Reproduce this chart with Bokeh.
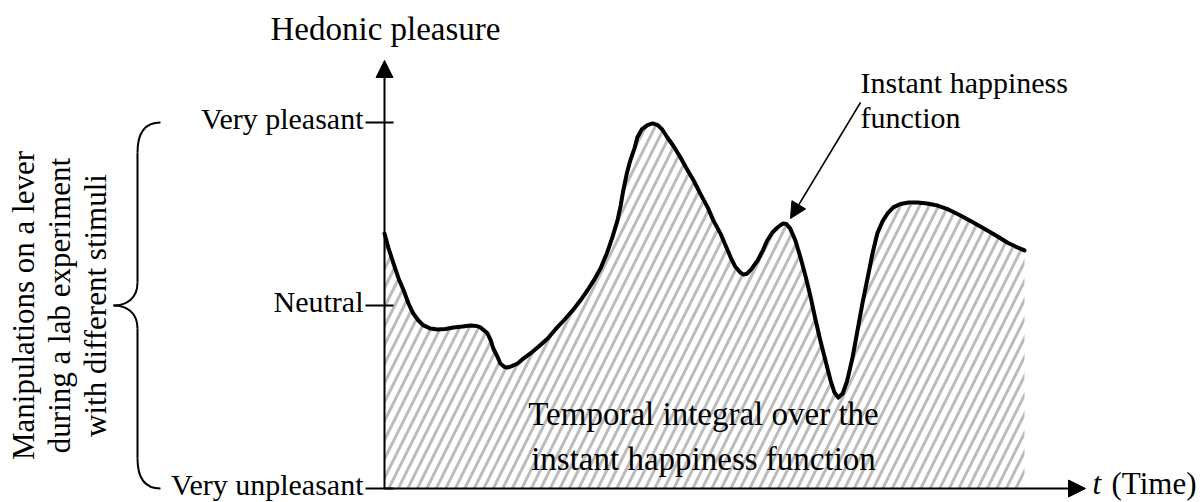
import math
from bokeh.plotting import figure
from bokeh.models import Range1d, Arrow, NormalHead
from bokeh.core.properties import value
from bokeh.embed import file_html
from bokeh.resources import INLINE

# ---- data ----
time = [0.0, 0.6, 1.4, 2.2, 3.0, 3.75, 4.5, 5.3, 6.1, 7.2, 8.3, 9.5, 10.8, 12.2, 13.4,
        14.4, 15.0, 15.6, 16.1, 16.6, 17.0, 17.7, 18.1, 18.75, 19.2, 19.8, 20.8, 21.7,
        22.8, 24.1, 25.5, 26.7, 28.0, 29.4, 30.6, 31.7, 32.7, 33.75, 34.8, 35.6, 36.4,
        36.9, 37.3, 37.9, 38.4, 39.1, 39.5, 40.2, 41.1, 41.9, 42.7, 43.4, 44.2, 45.2,
        46.25, 47.2, 48.3, 49.4, 50.5, 51.4, 52.5, 53.3, 54.1, 54.8, 55.6, 56.1, 56.7,
        57.3, 58.3, 59.1, 59.8, 60.6, 61.4, 61.9, 62.3, 62.8, 63.4, 64.2, 65.0, 65.8,
        66.6, 67.3, 68.1, 68.9, 69.7, 70.3, 70.9, 71.6, 72.3, 73.1, 73.9, 74.7, 75.5,
        76.25, 77.0, 77.8, 78.6, 79.5, 80.6, 81.9, 83.3, 84.8, 86.4, 88.1, 90.0, 92.0,
        94.2, 95.8, 97.3, 98.6, 100.0]
pleasure = [0.393, 0.317, 0.230, 0.148, 0.082, 0.011, -0.044, -0.082, -0.109, -0.126,
            -0.131, -0.128, -0.120, -0.115, -0.109, -0.112, -0.120, -0.137, -0.153,
            -0.191, -0.235, -0.284, -0.317, -0.336, -0.339, -0.333, -0.317, -0.290,
            -0.262, -0.224, -0.180, -0.131, -0.082, -0.027, 0.027, 0.082, 0.137, 0.202,
            0.290, 0.372, 0.464, 0.546, 0.628, 0.727, 0.792, 0.863, 0.918, 0.962, 0.986,
            0.995, 0.986, 0.962, 0.918, 0.869, 0.809, 0.749, 0.683, 0.607, 0.536, 0.464,
            0.393, 0.328, 0.262, 0.213, 0.180, 0.169, 0.175, 0.197, 0.246, 0.300, 0.355,
            0.399, 0.426, 0.440, 0.448, 0.445, 0.420, 0.355, 0.262, 0.158, 0.044, -0.071,
            -0.191, -0.301, -0.410, -0.475, -0.503, -0.481, -0.410, -0.290, -0.137,
            0.016, 0.153, 0.284, 0.393, 0.459, 0.503, 0.536, 0.555, 0.563, 0.563, 0.557,
            0.546, 0.525, 0.492, 0.454, 0.410, 0.377, 0.344, 0.322, 0.301]
level_values = [-1, 0, 1]
level_labels = ["Very unpleasant", "Neutral", "Very pleasant"]
y_title = "Hedonic pleasure"
x_title_var = "t"
x_title_unit = "(Time)"
left_note = ["Manipulations on a lever", "during a lab experiment", "with different stimuli"]
area_note = ["Temporal integral over the", "instant happiness function"]
curve_note = ["Instant happiness", "function"]

# ---- layout helpers (canvas pixels -> data units) ----
W, H = 1203, 502
X0, PXU = 384, 6.4
Y0, PYU = 305, 183.0
FIX = 12  # rendered baseline sits this many px below the anchor
def sx(px): return (px - X0) / PXU
def sy(py): return (Y0 - py) / PYU
def by(py): return sy(py - FIX)  # anchor for a wanted baseline

FONT = value("Liberation Serif")

p = figure(width=W, height=H,
           x_range=Range1d(sx(0), sx(W)), y_range=Range1d(sy(H), sy(0)),
           x_axis_type=None, y_axis_type=None,
           toolbar_location=None, output_backend="svg", min_border=0,
           outline_line_color=None, background_fill_color="white",
           border_fill_color="white")

# hatched area under the curve
p.varea(x=time, y1=[level_values[0]] * len(time), y2=pleasure,
        fill_color="white", hatch_pattern="/", hatch_color="#bcbcbc",
        hatch_weight=3, hatch_scale=19)

# instant happiness function
p.line(time, pleasure, line_width=4, line_color="black",
       line_join="round", line_cap="round")

# axes with arrows
head = dict(fill_color="black", line_color="black")
p.add_layout(Arrow(x_start=0, y_start=level_values[0], x_end=0, y_end=sy(60),
                   line_width=2, line_color="black", end=NormalHead(size=17, **head)))
p.add_layout(Arrow(x_start=0, y_start=level_values[0], x_end=sx(1085), y_end=level_values[0],
                   line_width=2, line_color="black", end=NormalHead(size=17, **head)))

# ticks and tick labels
p.segment(x0=[sx(365)] * 3, x1=[sx(393)] * 3, y0=level_values, y1=level_values,
          line_width=2, line_color="black")
p.text(x=[sx(363)] * 3, y=[v - (8 - FIX) / PYU for v in level_values], text=level_labels,
       text_align="right", text_baseline="alphabetic", text_font=FONT,
       text_font_size="30px", text_color="black")

# axis titles
p.text(x=[sx(385)], y=[by(40)], text=[y_title], text_align="center",
       text_baseline="alphabetic", text_font=FONT, text_font_size="33px",
       text_color="black")
p.text(x=[sx(1092)], y=[by(495)], text=[x_title_var], text_align="left",
       text_baseline="alphabetic", text_font=FONT, text_font_style="italic",
       text_font_size="31px", text_color="black")
p.text(x=[sx(1111)], y=[by(495)], text=[x_title_unit], text_align="left",
       text_baseline="alphabetic", text_font=FONT, text_font_size="31px",
       text_color="black")

# left rotated note
p.text(x=[sx(35 - FIX), sx(71 - FIX), sx(107 - FIX)], y=[level_values[1]] * 3,
       text=left_note, angle=math.pi / 2, text_align="center",
       text_baseline="alphabetic", text_font=FONT, text_font_size="31px",
       text_color="black")

# curly brace spanning the levels
top, mid, bot = level_values[2], level_values[1], level_values[0]
bx_end, bx_v, bx_tip = sx(160), sx(137), sx(113)
p.bezier(x0=[bx_end, bx_v, bx_tip, bx_v],
         y0=[top, sy(282), mid, sy(458)],
         x1=[bx_v, bx_tip, bx_v, bx_end],
         y1=[sy(152), mid, sy(328), bot],
         cx0=[sx(146), bx_v, sx(126), bx_v],
         cy0=[top, sy(298), mid, sy(480)],
         cx1=[bx_v, sx(126), bx_v, sx(146)],
         cy1=[sy(130), mid, sy(312), bot],
         line_width=2, line_color="black")
p.segment(x0=[bx_v, bx_v], x1=[bx_v, bx_v], y0=[sy(152), sy(328)], y1=[sy(282), sy(458)],
          line_width=2, line_color="black")

# note inside the area
p.text(x=[sx(703)] * 2, y=[by(425), by(470)], text=area_note, text_align="center",
       text_baseline="alphabetic", text_font=FONT, text_font_size="33px",
       text_color="black")

# note pointing at the curve
p.text(x=[sx(860)] * 2, y=[by(94), by(129)], text=curve_note, text_align="left",
       text_baseline="alphabetic", text_font=FONT, text_font_size="30px",
       text_color="black")
p.add_layout(Arrow(x_start=sx(860), y_start=sy(102), x_end=sx(790), y_end=sy(218),
                   line_width=1.5, line_color="black", end=NormalHead(size=16, **head)))

open("out.html", "w").write(file_html(p, INLINE))
